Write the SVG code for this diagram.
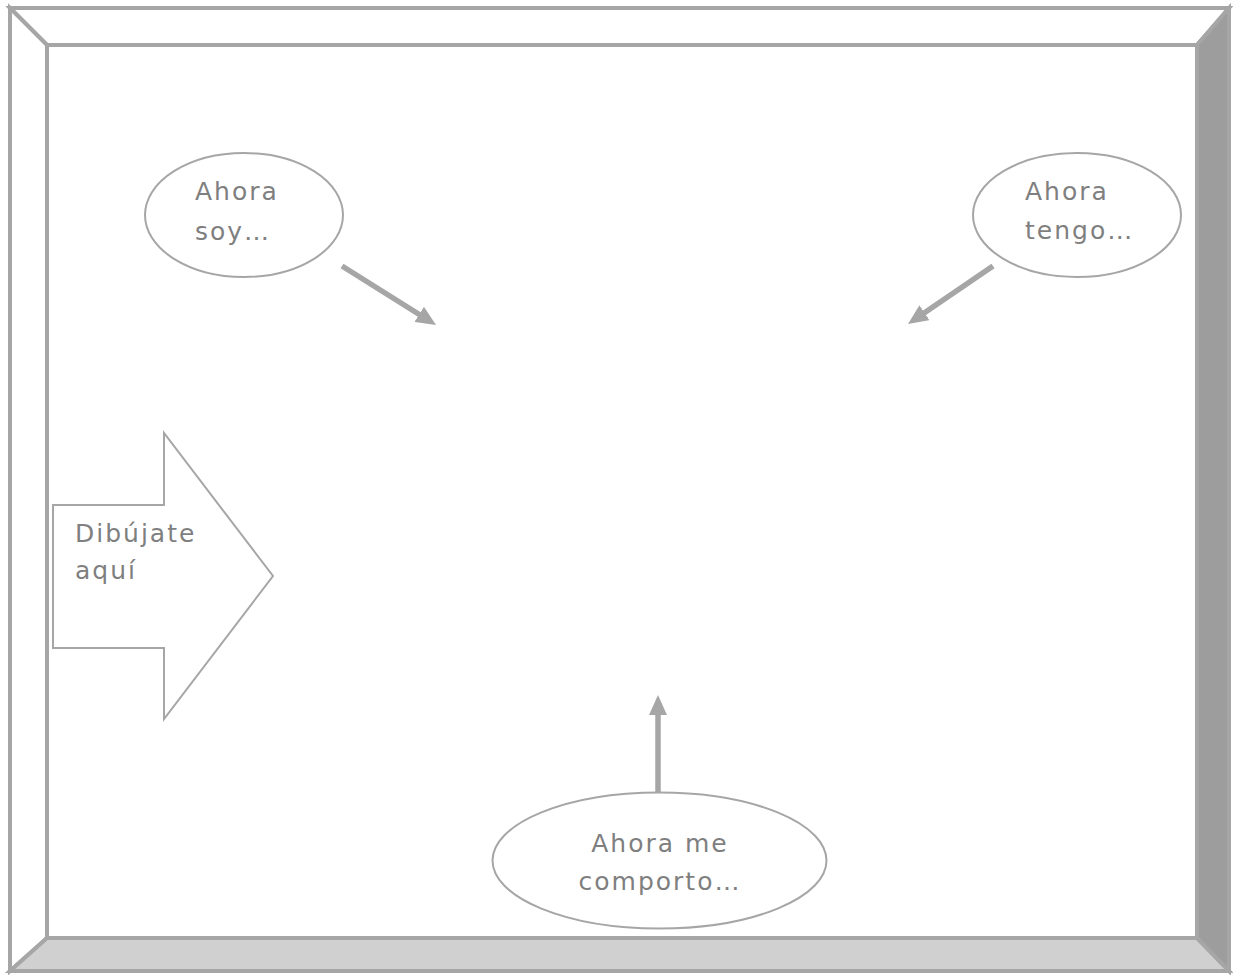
<svg xmlns="http://www.w3.org/2000/svg" width="1233" height="975" viewBox="0 0 1233 975">
<style>
.frame{stroke:#a6a6a6;stroke-width:4;stroke-linejoin:miter}
.node{fill:#ffffff;stroke:#a6a6a6;stroke-width:2}
.lbl{font-family:"DejaVu Sans","Liberation Sans",sans-serif;font-size:25px;fill:#7f7f7f;letter-spacing:2px}
.conn{stroke:#a6a6a6;stroke-width:5.5;fill:none}
</style>
<defs>
<marker id="ah" viewBox="0 0 20 18" refX="4" refY="9" markerWidth="20" markerHeight="18" markerUnits="userSpaceOnUse" orient="auto">
<path d="M0,0 L20,9 L0,18 z" fill="#a6a6a6"/>
</marker>
</defs>
<rect width="1233" height="975" fill="#ffffff"/>
<g id="frame">
<polygon class="frame" fill="#ffffff" points="10,8 1229,8 1197,45 47,45"/>
<polygon class="frame" fill="#ffffff" points="10,8 47,45 47,938 10,971"/>
<polygon class="frame" fill="#9d9d9d" points="1229,8 1229,971 1197,938 1197,45"/>
<polygon class="frame" fill="#d0d0d0" points="10,971 1229,971 1197,938 47,938"/>
</g>
<g id="connectors">
<line class="conn" x1="342" y1="266" x2="422.5" y2="316.5" marker-end="url(#ah)"/>
<line class="conn" x1="993" y1="266" x2="921.2" y2="315" marker-end="url(#ah)"/>
<line class="conn" x1="658" y1="796" x2="658" y2="711" marker-end="url(#ah)"/>
</g>
<g id="node-soy">
<ellipse class="node" cx="244" cy="215" rx="99" ry="62"/>
<text class="lbl" x="195" y="200">Ahora</text>
<text class="lbl" x="195" y="240">soy…</text>
</g>
<g id="node-tengo">
<ellipse class="node" cx="1077" cy="215" rx="104" ry="62"/>
<text class="lbl" x="1025" y="200">Ahora</text>
<text class="lbl" x="1025" y="239">tengo…</text>
</g>
<g id="node-comporto">
<ellipse class="node" cx="659.5" cy="860.5" rx="167" ry="68"/>
<text class="lbl" x="660" y="852" text-anchor="middle">Ahora me</text>
<text class="lbl" x="660" y="890" text-anchor="middle">comporto…</text>
</g>
<g id="node-dibujate">
<polygon class="node" points="53,505 164,505 164,433 273,576 164,719 164,648 53,648"/>
<text class="lbl" x="75" y="542">Dibújate</text>
<text class="lbl" x="75" y="579">aquí</text>
</g>
</svg>
